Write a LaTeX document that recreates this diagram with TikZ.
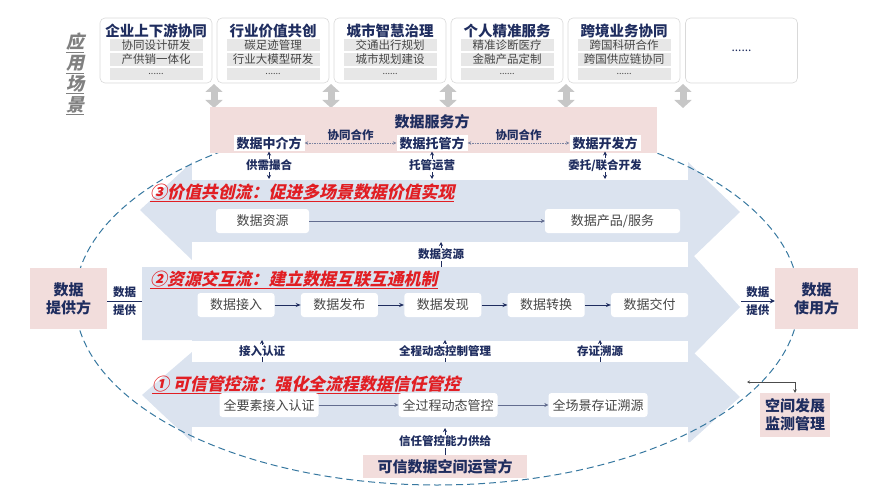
\documentclass[tikz,border=0pt]{standalone}
\usepackage{fontspec}
\setmainfont{Noto Sans CJK SC}
\newfontfamily\slfont[FakeSlant=0.22]{Noto Sans CJK SC}
\usetikzlibrary{arrows.meta,positioning}

\definecolor{navy}{RGB}{31,45,95}
\definecolor{pinkbg}{RGB}{242,221,220}
\definecolor{bandblue}{RGB}{219,227,239}
\definecolor{flowred}{RGB}{225,30,35}
\definecolor{rimblue}{RGB}{55,120,160}
\definecolor{barg}{RGB}{231,231,231}
\definecolor{textg}{RGB}{70,70,70}

\begin{document}
\begin{tikzpicture}[x=1pt,y=-1pt,
    scenebox/.style={draw=black!15, line width=0.6pt, fill=white, rounded corners=5pt,
      minimum width=112pt, minimum height=65pt, inner sep=0pt},
    scenettl/.style={font=\fontsize{14.5}{16}\selectfont\bfseries, text=navy, inner sep=0pt},
    sbar/.style={fill=barg, minimum width=93pt, minimum height=12.5pt, inner sep=0pt,
      font=\fontsize{11.5}{12}\selectfont, text=textg},
    updown/.style={line width=7pt, draw=black!22,
      {Triangle[width=17pt,length=8pt]}-{Triangle[width=17pt,length=8pt]}},
    party/.style={fill=white, inner xsep=3pt, inner ysep=2pt,
      font=\fontsize{13}{15}\selectfont\bfseries, text=navy},
    pinkbox/.style={fill=pinkbg, font=\fontsize{15}{18}\selectfont\bfseries, text=navy,
      align=center, inner sep=0pt},
    flowttl/.style={anchor=west, text=flowred, inner sep=0pt,
      font=\fontsize{16.9}{18}\slfont\bfseries},
    rowbox/.style={fill=white, rounded corners=3pt, minimum height=24pt, inner xsep=4pt,
      font=\fontsize{13}{15}\selectfont, text=textg},
    rowarr/.style={draw=navy, line width=0.8pt, -{Stealth[length=5pt,width=4pt]}},
    slab/.style={fill=white, inner sep=1pt, font=\fontsize{11.5}{13}\selectfont\bfseries, text=navy},
    sarr/.style={draw=navy, line width=0.6pt, -{Stealth[length=4pt,width=4pt]}},
    dotarr/.style={draw=navy!60, densely dotted, line width=0.7pt,
      {Stealth[length=3.5pt,width=3.5pt]}-{Stealth[length=3.5pt,width=3.5pt]}},
    sidelab/.style={font=\fontsize{11.5}{13}\selectfont\bfseries, text=navy, inner sep=1pt}]

  \useasboundingbox (0,0) rectangle (869,497);

  % application scenes
  \node[text=black!50, align=center, font=\fontsize{18}{21}\slfont\bfseries] (scn) at (75,74)
    {\underline{应}\\\underline{用}\\\underline{场}\\\underline{景}};
  \foreach \i/\ttl/\la/\lb in {0/企业上下游协同/协同设计研发/产供销一体化,
      1/行业价值共创/碳足迹管理/行业大模型研发, 2/城市智慧治理/交通出行规划/城市规划建设,
      3/个人精准服务/精准诊断医疗/金融产品定制, 4/跨境业务协同/跨国科研合作/跨国供应链协同} {
    \node[scenebox] (sc\i) at ({156+117*\i},50.5) {};
    \node[scenettl] (st\i) at ({156+117*\i},31) {\ttl};
    \node[sbar] (sa\i) at ({156+117*\i},45) {\la};
    \node[sbar] (sb\i) at ({156+117*\i},59.5) {\lb};
    \node[sbar, font=\fontsize{9}{10}\selectfont] (sd\i) at ({156+117*\i},74) {......};
  }
  \node[scenebox, font=\fontsize{12}{12}\selectfont, text=navy] (sc5) at (741.5,50.5) {......};
  \foreach \x in {214,331,448,566,683} \draw[updown] (\x,84) -- (\x,108);

  % three flows
  \fill[bandblue] (192,162) -- (688,162) -- (740,212) -- (690,260) -- (192,260) -- (140,210) -- cycle;
  \fill[bandblue] (142,267) -- (192,267) -- (192,255) -- (693,255) -- (740,307) -- (693,355)
    -- (192,355) -- (192,340) -- (142,340) -- cycle;
  \fill[bandblue] (192,352) -- (693,352) -- (740,397) -- (690,442) -- (192,442) -- (142,395) -- cycle;
  \fill[white] (192,153) rectangle (688,180);
  \fill[white] (192,242) rectangle (688,267);
  \fill[white] (192,341) rectangle (688,362);
  \fill[white] (192,427) rectangle (688,445);

  \draw[rimblue, line width=1pt, dash pattern=on 7pt off 4pt] (437,300)
    ellipse [x radius=362pt, y radius=185pt];

  % data service party
  \node[fill=pinkbg, minimum width=447pt, minimum height=46pt, inner sep=0pt] (svc) at (433.5,130) {};
  \node[text=navy, font=\fontsize{15}{17}\selectfont\bfseries, inner sep=0pt] (svct) at (432,122) {数据服务方};
  \node[party] (mid) at (269,143) {数据中介方};
  \node[party] (host) at (432,143) {数据托管方};
  \node[party] (dev) at (605,143) {数据开发方};
  \draw[dotarr] (mid) -- node[sidelab, above=1pt] (co1) {协同合作} (host);
  \draw[dotarr] (host) -- node[sidelab, above=1pt] (co2) {协同合作} (dev);

  \coordinate (s1b) at (0,179);
  \draw[sarr, {Stealth[length=4pt,width=4pt]}-{Stealth[length=4pt,width=4pt]}]
    (mid.south) -- node[slab] (l1) {供需撮合} (mid.south |- s1b);
  \draw[sarr, {Stealth[length=4pt,width=4pt]}-{Stealth[length=4pt,width=4pt]}]
    (host.south) -- node[slab] (l2) {托管运营} (host.south |- s1b);
  \draw[sarr, {Stealth[length=4pt,width=4pt]}-{Stealth[length=4pt,width=4pt]}]
    (dev.south) -- node[slab] (l3) {委托/联合开发} (dev.south |- s1b);

  % flow 3
  \node[flowttl] (f3) at (150,193) {\underline{③价值共创流：促进多场景数据价值实现}};
  \node[rowbox, minimum width=93pt] (res) at (262.5,221) {数据资源};
  \node[rowbox, minimum width=135pt] (prod) at (612.5,221) {数据产品/服务};
  \draw[draw=navy!70, line width=0.6pt, -{Stealth[length=4pt,width=4pt]}] (res) -- (prod);

  \coordinate (r2a) at (441,267);
  \coordinate (r2b) at (441,242);
  \draw[sarr] (r2a) -- node[slab] (l4) {数据资源} (r2b);

  % flow 2
  \node[flowttl] (f2) at (150,280) {\underline{②资源交互流：建立数据互联互通机制}};
  \node[rowbox, minimum width=77pt] (in) at (236,305) {数据接入};
  \node[rowbox, minimum width=77pt, right=26pt of in] (pub) {数据发布};
  \node[rowbox, minimum width=77pt, right=26pt of pub] (disc) {数据发现};
  \node[rowbox, minimum width=77pt, right=26pt of disc] (conv) {数据转换};
  \node[rowbox, minimum width=77pt, right=26pt of conv] (deliv) {数据交付};
  \draw[rowarr] (in) -- (pub);
  \draw[rowarr] (pub) -- (disc);
  \draw[rowarr] (disc) -- (conv);
  \draw[rowarr] (conv) -- (deliv);

  \draw[sarr] (262,362) -- node[slab] (l5) {接入认证} (262,340);
  \draw[sarr] (445,362) -- node[slab] (l6) {全程动态控制管理} (445,340);
  \draw[sarr] (600,362) -- node[slab] (l7) {存证溯源} (600,340);

  % flow 1
  \node[flowttl] (f1) at (152,385) {\underline{① 可信管控流：强化全流程数据信任管控}};
  \node[rowbox] (auth) at (269,405) {全要素接入认证};
  \node[rowbox] (ctrl) at (448,405) {全过程动态管控};
  \node[rowbox] (trace) at (598,405) {全场景存证溯源};
  \draw[draw=navy!70, line width=0.6pt, -{Stealth[length=4pt,width=4pt]}] (auth) -- (ctrl);
  \draw[draw=navy!70, line width=0.6pt, -{Stealth[length=4pt,width=4pt]}] (ctrl) -- (trace);

  % operator
  \node[pinkbox, minimum width=164pt, minimum height=23pt] (op) at (445,466.5) {可信数据空间运营方};
  \coordinate (s4t) at (0,428);
  \draw[sarr] (op.north) -- node[slab] (l8) {信任管控能力供给} (op.north |- s4t);

  % provider and user
  \node[pinkbox, minimum width=77pt, minimum height=61pt] (prov) at (68.5,298.5) {数据\\提供方};
  \node[pinkbox, minimum width=83pt, minimum height=61pt] (user) at (816.5,298.5) {数据\\使用方};
  \coordinate (b2l) at (142,301);
  \coordinate (b2r) at (741,301);
  \draw[navy, line width=1pt] (prov.east |- b2l) -- node[sidelab, above=2pt] (pl1) {数据}
    node[sidelab, below=2pt] (pl2) {提供} (b2l);
  \draw[navy, line width=1pt, -{Stealth[length=5pt,width=5pt]}] (b2r) -- node[sidelab, above=2pt] (ul1) {数据}
    node[sidelab, below=2pt] (ul2) {提供} (user.west |- b2r);

  % monitoring
  \node[pinkbox, minimum width=70pt, minimum height=44pt] (mon) at (795,415) {空间发展\\监测管理};
  \coordinate (mt) at (747,382);
  \draw[black!70, line width=0.5pt, {Stealth[length=3pt,width=3pt]}-{Stealth[length=3.5pt,width=3.5pt]}]
    (mt) -| (mon.north);
\end{tikzpicture}
\end{document}
